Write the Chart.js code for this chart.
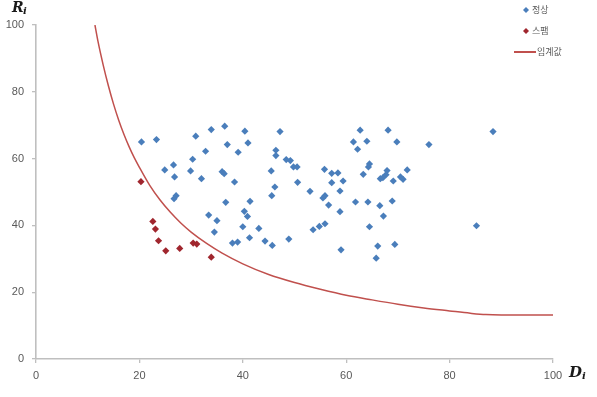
<!DOCTYPE html>
<html>
<head>
<meta charset="utf-8">
<script src="https://cdn.jsdelivr.net/npm/chart.js@4"></script>
<style>
  html, body { margin: 0; padding: 0; background: #fff; }
  #wrap { width: 597px; height: 397px; position: relative; }
</style>
</head>
<body>
<div id="wrap"><canvas id="chart" width="597" height="397"></canvas></div>
<script>
// normal (정상) points
const normalD = [20.4, 23.3, 30.9, 33.9, 36.5, 40.4, 47.2, 37.0, 41.0, 32.8, 39.1, 46.4, 46.4, 30.3, 26.6,
  24.9, 29.9, 36.0, 36.4, 26.8, 32.0, 38.4, 45.5, 48.4, 49.2, 49.8, 50.6, 46.2, 45.6, 27.1,
  26.7, 36.7, 41.4, 33.4, 35.0, 40.3, 40.9, 40.0, 43.1, 34.5, 41.3, 38.0, 39.0, 44.3, 45.7,
  48.9, 62.7, 68.1, 88.4, 61.4, 64.0, 69.8, 76.0, 62.2, 50.5, 55.8, 57.2, 58.4, 64.5, 64.3,
  67.9, 67.7, 71.8, 63.3, 66.6, 67.1, 70.5, 71.0, 69.1, 57.2, 59.4, 53.0, 58.8, 55.5, 55.9,
  56.6, 61.8, 64.2, 66.5, 68.9, 67.2, 58.8, 53.6, 54.8, 55.9, 64.5, 85.2, 59.0, 66.1, 69.4, 65.8];
const normalR = [65.0, 65.7, 66.7, 68.7, 69.7, 68.2, 68.1, 64.2, 64.7, 62.2, 61.9, 62.5, 60.9, 59.8, 58.1,
  56.6, 56.3, 56.1, 55.5, 54.5, 54.0, 53.0, 56.3, 59.7, 59.4, 57.5, 52.9, 51.5, 48.9, 48.9,
  48.0, 46.9, 47.2, 43.1, 41.4, 44.2, 42.7, 39.6, 39.1, 38.0, 36.3, 34.7, 35.0, 35.3, 34.0,
  35.9, 68.5, 68.5, 68.1, 65.0, 65.2, 65.0, 64.2, 62.8, 57.5, 56.8, 55.6, 55.7, 58.4, 57.5,
  56.4, 55.2, 56.6, 55.3, 54.0, 54.3, 54.5, 53.8, 53.3, 52.8, 53.3, 50.2, 50.3, 48.2, 48.9,
  46.1, 47.0, 47.0, 45.9, 47.3, 42.8, 44.1, 38.7, 39.7, 40.5, 39.6, 39.9, 32.7, 33.8, 34.3, 30.2];

// spam (스팸) points
const spamD = [20.3, 22.6, 23.1, 23.7, 25.1, 27.8, 30.4, 31.1, 33.9];
const spamR = [53.1, 41.2, 38.9, 35.4, 32.4, 33.1, 34.7, 34.4, 30.5];

// threshold (임계값) curve
const limitD = [11.4, 12, 13, 14, 15, 16, 17, 18, 19, 20, 22, 24, 26, 28, 30, 33, 36, 40, 45, 50,
  55, 60, 65, 70, 75, 80, 84, 87, 90, 100];
const limitR = [100, 95, 88, 81.8, 76.3, 71.5, 67.3, 63.6, 60.3, 57.4, 52, 47.6, 43.9, 40.7, 38, 34.6, 31.7, 28.5, 25.3, 22.9,
  20.9, 19.1, 17.7, 16.4, 15.3, 14.4, 13.7, 13.3, 13.2, 13.2];

const seriesNames = ["정상", "스팸", "임계값"];
const axisTicks = [0, 20, 40, 60, 80, 100];

const BLUE = "#4a7ebb";
const DARKRED = "#a0262e";
const LINE_RED = "#c0504d";
const AXIS = "#bfbfbf";
const TEXT = "#595959";

const toPts = (xs, ys) => xs.map((x, i) => ({ x, y: ys[i] }));

// custom legend + axis titles
const decor = {
  id: "decor",
  afterDraw(chart) {
    const c = chart.ctx;
    c.save();
    // legend
    const diamond = (x, y, r, col) => {
      c.fillStyle = col;
      c.beginPath();
      c.moveTo(x, y - r); c.lineTo(x + r, y); c.lineTo(x, y + r); c.lineTo(x - r, y);
      c.closePath(); c.fill();
    };
    diamond(526, 10, 3, BLUE);
    diamond(526, 31, 3, DARKRED);
    c.strokeStyle = LINE_RED; c.lineWidth = 2;
    c.beginPath(); c.moveTo(514, 52); c.lineTo(536, 52); c.stroke();
    c.fillStyle = TEXT;
    c.font = "9px 'Noto Sans CJK KR'";
    c.textBaseline = "middle"; c.textAlign = "left";
    c.fillText(seriesNames[0], 532, 10);
    c.fillText(seriesNames[1], 532, 31);
    c.fillText(seriesNames[2], 537, 52);
    // axis titles
    c.fillStyle = "#1a1a1a";
    c.font = "bold italic 14px 'DejaVu Serif'";
    c.textBaseline = "alphabetic";
    c.fillText("R", 12, 12);
    c.font = "bold italic 10px 'DejaVu Serif'";
    c.fillText("i", 23, 14);
    c.font = "bold italic 15px 'DejaVu Serif'";
    c.fillText("D", 569, 377);
    c.font = "bold italic 10px 'DejaVu Serif'";
    c.fillText("i", 582, 379);
    c.restore();
  }
};

const tickFont = { family: "'Liberation Sans'", size: 11 };

new Chart(document.getElementById("chart"), {
  type: "scatter",
  data: {
    datasets: [
      { label: seriesNames[0], data: toPts(normalD, normalR), pointStyle: "rectRot", pointRadius: 3.6,
        backgroundColor: BLUE, borderColor: BLUE, borderWidth: 0, order: 2 },
      { label: seriesNames[1], data: toPts(spamD, spamR), pointStyle: "rectRot", pointRadius: 3.6,
        backgroundColor: DARKRED, borderColor: DARKRED, borderWidth: 0, order: 2 },
      { label: seriesNames[2], type: "line", data: toPts(limitD, limitR), showLine: true, pointRadius: 0,
        borderColor: LINE_RED, borderWidth: 1.5, fill: false, cubicInterpolationMode: "monotone", order: 1 }
    ]
  },
  options: {
    responsive: false,
    animation: false,
    layout: { padding: { top: 25, right: 44, left: 0, bottom: 0 } },
    plugins: { legend: { display: false }, tooltip: { enabled: false } },
    scales: {
      x: {
        type: "linear", min: 0, max: 100,
        afterBuildTicks: s => { s.ticks = axisTicks.map(v => ({ value: v })); },
        afterFit: s => { s.height = 38; },
        grid: { drawOnChartArea: false, color: AXIS, tickLength: 4, lineWidth: 1.3 },
        border: { color: AXIS, width: 1.6 },
        ticks: { color: TEXT, font: tickFont, padding: 6, maxRotation: 0 }
      },
      y: {
        type: "linear", min: 0, max: 100,
        afterBuildTicks: s => { s.ticks = axisTicks.map(v => ({ value: v })); },
        afterFit: s => { s.width = 36; },
        grid: { drawOnChartArea: false, color: AXIS, tickLength: 4, lineWidth: 1.3 },
        border: { color: AXIS, width: 1.6 },
        ticks: { color: TEXT, font: tickFont, padding: 8 }
      }
    }
  },
  plugins: [decor]
});
</script>
</body>
</html>
